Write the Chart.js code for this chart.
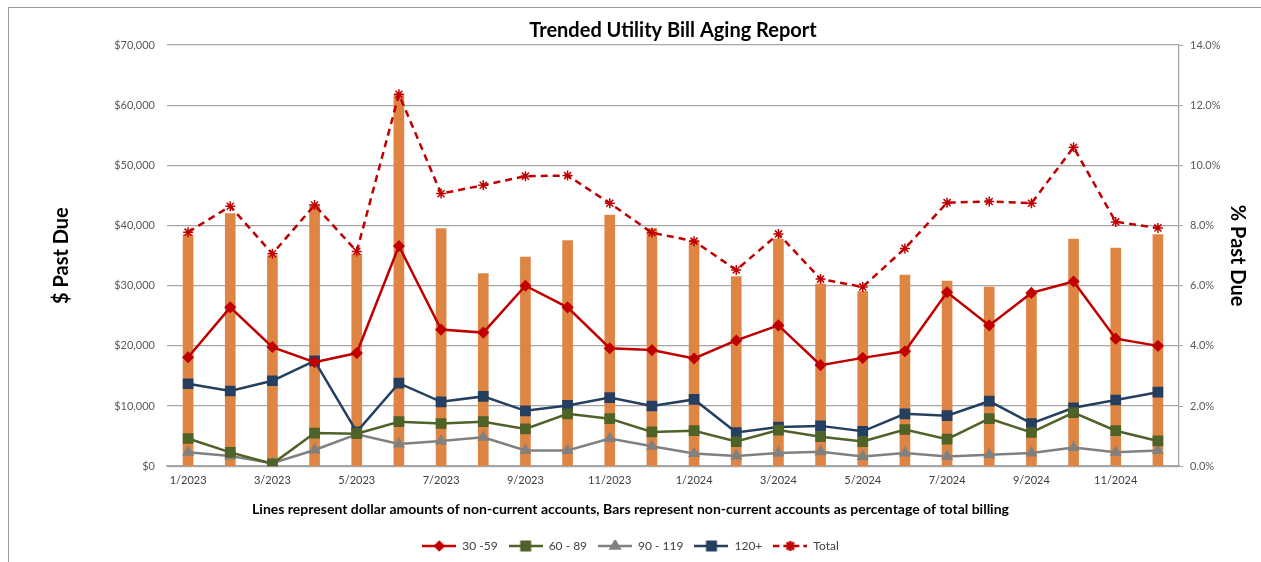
<!DOCTYPE html>
<html>
<head>
<meta charset="utf-8">
<script src="https://cdn.jsdelivr.net/npm/chart.js@4.4.1/dist/chart.umd.min.js"></script>
<style>
body{margin:0;background:#fff;}
#wrap{position:relative;width:1261px;height:562px;}
#frame{position:absolute;left:8px;top:7px;right:-2px;bottom:-2px;border-left:1px solid #9a9a9a;border-top:1px solid #9a9a9a;pointer-events:none;}
</style>
</head>
<body>
<div id="wrap">
<canvas id="agingChart" width="1261" height="562"></canvas>
<div id="frame"></div>
</div>
<script>
const months=["1/2023","2/2023","3/2023","4/2023","5/2023","6/2023","7/2023","8/2023","9/2023","10/2023","11/2023","12/2023",
"1/2024","2/2024","3/2024","4/2024","5/2024","6/2024","7/2024","8/2024","9/2024","10/2024","11/2024","12/2024"];

// % of total billing (bars, right axis)
const pctPastDue=[7.7,8.4,7.0,8.7,7.05,12.35,7.9,6.4,6.95,7.5,8.35,7.9,7.5,6.3,7.55,6.05,5.8,6.35,6.15,5.95,5.75,7.55,7.25,7.7];

// $ amounts (lines, left axis)
const d30_59=[18100,26400,19800,17300,18800,36600,22700,22200,30000,26400,19600,19300,17900,20900,23400,16800,18000,19100,28900,23400,28800,30700,21200,20000];
const d60_89=[4600,2300,400,5500,5400,7400,7100,7400,6200,8700,7900,5700,5900,4100,6000,4900,4100,6100,4500,7900,5600,8900,5900,4200];
const d90_119=[2300,1700,500,2700,5300,3700,4200,4800,2600,2600,4600,3300,2100,1700,2200,2400,1600,2200,1600,1900,2200,3100,2300,2600];
const d120=[13700,12500,14200,17500,5700,13800,10700,11600,9200,10100,11400,10000,11100,5600,6500,6700,5800,8700,8400,10800,7100,9700,11000,12300];
const totalPastDue=[38900,43200,35300,43400,35700,61800,45300,46700,48200,48300,43700,38800,37400,32600,38600,31100,29800,36200,43800,44000,43700,53000,40600,39600];

const FONT="Lato, 'Open Sans', sans-serif";

function legendIcon(color,style,r,dash){
  const c=document.createElement("canvas");
  c.width=34;c.height=12;
  const x=c.getContext("2d");
  x.strokeStyle=color;x.fillStyle=color;x.lineWidth=2.5;
  if(dash) x.setLineDash([6,4]);
  x.beginPath();x.moveTo(0,6);x.lineTo(34,6);x.stroke();
  x.setLineDash([]);
  Chart.helpers.drawPoint(x,{pointStyle:style,radius:r,borderWidth:1.5},17,6);
  x.fill();
  return c;
}

function lineSet(label,data,color,style,r,dash){
  return {
    type:"line",label:label,data:data,yAxisID:"y",
    borderColor:color,backgroundColor:color,borderWidth:2.5,
    borderDash:dash?[7,5]:[],
    pointStyle:style,pointRadius:r,pointHoverRadius:r,
    pointBackgroundColor:color,pointBorderColor:color,pointBorderWidth:1.5,
    tension:0,order:1
  };
}

window.onload=function(){
const ctx=document.getElementById("agingChart").getContext("2d");

const sets=[
  lineSet("30 -59",d30_59,"#C00000","rectRot",5,false),
  lineSet("60 - 89",d60_89,"#4F6228","rect",6.5,false),
  lineSet("90 - 119",d90_119,"#808080","triangle",5.5,false),
  lineSet("120+",d120,"#243F60","rect",6.5,false),
  lineSet("Total",totalPastDue,"#C00000","star",5,true),
  {type:"bar",label:"% Past Due",data:pctPastDue,yAxisID:"y1",
   backgroundColor:"#DE8544",barThickness:10,order:10}
];
const icons=[
  legendIcon("#C00000","rectRot",4,false),
  legendIcon("#4F6228","rect",6,false),
  legendIcon("#808080","triangle",5,false),
  legendIcon("#243F60","rect",6,false),
  legendIcon("#C00000","star",5,true)
];

new Chart(ctx,{
  data:{labels:months,datasets:sets},
  options:{
    responsive:false,animation:false,
    layout:{padding:{left:0,right:0,top:0,bottom:0}},
    plugins:{
      title:{display:true,fullSize:false,text:"Trended Utility Bill Aging Report",color:"#000",
        font:{family:FONT,size:20,weight:"bold"},padding:{top:19,bottom:2}},
      subtitle:{display:true,position:"bottom",weight:500,
        text:"Lines represent dollar amounts of non-current accounts, Bars represent non-current accounts as percentage of total billing",
        color:"#000",font:{family:FONT,size:14,weight:"bold"},padding:{top:0,bottom:11}},
      legend:{position:"bottom",
        labels:{usePointStyle:true,pointStyleWidth:34,color:"#404040",
          font:{family:FONT,size:12},padding:11,
          generateLabels:function(chart){
            return chart.data.datasets.slice(0,5).map(function(d,i){
              return {text:d.label,pointStyle:icons[i],datasetIndex:i,
                fillStyle:"transparent",strokeStyle:"transparent",lineWidth:0,fontColor:"#404040"};
            });
          }}},
      tooltip:{enabled:false}
    },
    scales:{
      x:{
        grid:{display:false,drawTicks:false},
        border:{display:true,color:"#A6A6A6",width:1.5},
        ticks:{autoSkip:false,maxRotation:0,color:"#404040",padding:8,
          font:{family:FONT,size:11},
          callback:function(v,i){return i%2===0?months[i]:"";}},
        afterFit:function(s){s.height=35;}
      },
      y:{
        position:"left",min:0,max:70000,
        grid:{color:"#A6A6A6",lineWidth:1.3,drawTicks:false},
        border:{display:false},
        ticks:{stepSize:10000,padding:12,color:"#595959",font:{family:FONT,size:11},
          callback:function(v){return "$"+v.toLocaleString("en-US");}},
        title:{display:true,text:"$ Past Due",color:"#000",
          font:{family:FONT,size:20,weight:"bold"},padding:{top:50,bottom:0}},
        afterFit:function(s){s.width=167;}
      },
      y1:{
        position:"right",min:0,max:14,
        grid:{drawOnChartArea:false,color:"#A6A6A6",tickLength:4},
        border:{display:true,color:"#A6A6A6",width:1.3},
        ticks:{stepSize:2,padding:7,color:"#595959",font:{family:FONT,size:11},
          callback:function(v){return v.toFixed(1)+"%";}},
        title:{display:true,text:"% Past Due",color:"#000",
          font:{family:FONT,size:20,weight:"bold"},padding:{top:12,bottom:0}},
        afterFit:function(s){s.width=82;}
      }
    }
  }
});
};
</script>
</body>
</html>
